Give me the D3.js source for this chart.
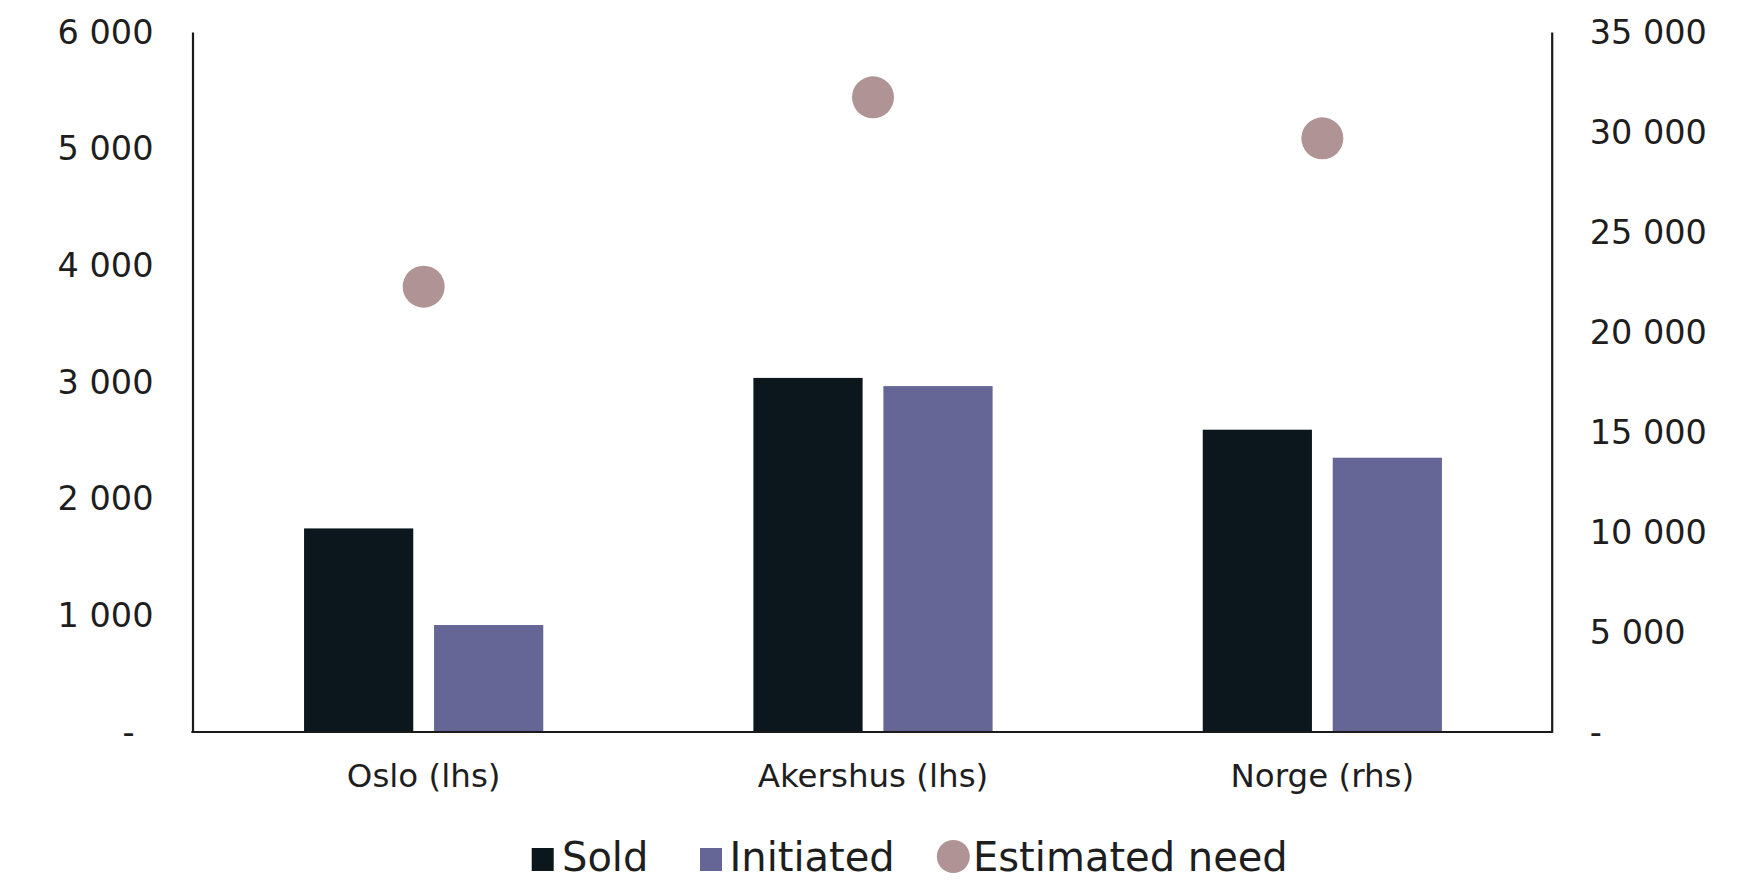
<!DOCTYPE html>
<html>
<head>
<meta charset="utf-8">
<script src="https://cdn.jsdelivr.net/npm/d3@7"></script>
<style>
  html, body { margin: 0; padding: 0; background: #ffffff; }
  svg { display: block; }
  text { font-family: "DejaVu Sans", sans-serif; fill: #1e1e1e; }
</style>
</head>
<body>
<svg id="chart" width="1742" height="882"></svg>
<script>
// ---- data ----
const categories = ["Oslo (lhs)", "Akershus (lhs)", "Norge (rhs)"];
const axisSide   = ["left", "left", "right"];
const seriesNames = ["Sold", "Initiated"];
const sold       = [1745, 3035, 15115];
const initiated  = [917, 2965, 13715];
const need       = [3817, 5440, 29685];
const leftTicks  = [0, 1000, 2000, 3000, 4000, 5000, 6000];
const rightTicks = [0, 5000, 10000, 15000, 20000, 25000, 30000, 35000];
const legendLabels = ["Sold", "Initiated", "Estimated need"];

// ---- styles ----
const colors = { Sold: "#0b171c", Initiated: "#666696", need: "#b09495" };

const svg = d3.select("#chart");
const plotL = 192.5, plotR = 1551.7, plotT = 32, plotB = 732;

const locale = d3.formatLocale({ decimal: ",", thousands: "\u00a0", grouping: [3], currency: ["", ""] });
const fmt = locale.format(",d");
const tickFmt = v => v === 0 ? "-" : fmt(v);

const x = d3.scaleBand().domain(categories).range([199, 1547]).padding(0);
const xs = d3.scaleBand().domain(seriesNames).range([-119.6, 119.6]).paddingInner(0.16);
const yL = d3.scaleLinear().domain([0, 6000]).range([plotB, plotT]);
const yR = d3.scaleLinear().domain([0, 35000]).range([plotB, plotT]);
const yFor = i => axisSide[i] === "left" ? yL : yR;

const cx = c => x(c) + x.bandwidth() / 2;

// ---- bars ----
const barData = [];
categories.forEach((c, i) => {
  barData.push({ c, i, s: "Sold", v: sold[i] });
  barData.push({ c, i, s: "Initiated", v: initiated[i] });
});
svg.append("g").selectAll("rect").data(barData).join("rect")
  .attr("x", d => cx(d.c) + xs(d.s))
  .attr("width", xs.bandwidth())
  .attr("y", d => yFor(d.i)(d.v))
  .attr("height", d => plotB - yFor(d.i)(d.v))
  .attr("fill", d => colors[d.s]);

// ---- dots ----
svg.append("g").selectAll("circle").data(categories).join("circle")
  .attr("cx", c => cx(c))
  .attr("cy", (c, i) => yFor(i)(need[i]))
  .attr("r", 21)
  .attr("fill", colors.need);

// ---- axes ----
const gl = svg.append("g").attr("transform", `translate(${plotL},0)`)
  .call(d3.axisLeft(yL).tickValues(leftTicks).tickFormat(tickFmt).tickSize(0).tickSizeOuter(0).tickPadding(39));
gl.select(".domain").attr("stroke", "#1a1a1a").attr("stroke-width", 2.2);
gl.selectAll(".tick text").attr("font-size", 33.5).attr("font-family", "DejaVu Sans").attr("fill", "#1e1e1e")
  .attr("dy", "0.33em").attr("dx", d => d === 0 ? -19 : 0);

const gr = svg.append("g").attr("transform", `translate(${plotR},0)`)
  .call(d3.axisRight(yR).tickValues(rightTicks).tickFormat(tickFmt).tickSize(0).tickSizeOuter(0).tickPadding(38));
gr.select(".domain").attr("stroke", "#1a1a1a").attr("stroke-width", 2.2);
gr.selectAll(".tick text").attr("font-size", 33.5).attr("font-family", "DejaVu Sans").attr("fill", "#1e1e1e")
  .attr("dy", "0.33em");

const gb = svg.append("g").attr("transform", `translate(0,${plotB})`)
  .call(d3.axisBottom(x).tickSize(0).tickPadding(32.3));
gb.select(".domain").remove();
gb.selectAll(".tick text").attr("font-size", 32.5).attr("font-family", "DejaVu Sans").attr("fill", "#1e1e1e");

svg.append("line")
  .attr("x1", plotL - 1.1).attr("x2", plotR + 1.1)
  .attr("y1", plotB).attr("y2", plotB)
  .attr("stroke", "#1a1a1a").attr("stroke-width", 2.2);

// ---- legend ----
const legendX = [531.7, 700, 937];
const legendTextX = [562, 729.5, 973];
const legendBase = 871;
const lg = svg.append("g");
legendLabels.forEach((lab, i) => {
  if (i < 2) {
    lg.append("rect").attr("x", legendX[i]).attr("y", legendBase - 23)
      .attr("width", 22).attr("height", 23)
      .attr("fill", colors[seriesNames[i]]);
  } else {
    lg.append("circle").attr("cx", legendX[i] + 16.3).attr("cy", 856.5).attr("r", 16.5)
      .attr("fill", colors.need);
  }
  lg.append("text").attr("x", legendTextX[i]).attr("y", legendBase)
    .attr("font-size", 40).text(lab);
});
</script>
</body>
</html>
